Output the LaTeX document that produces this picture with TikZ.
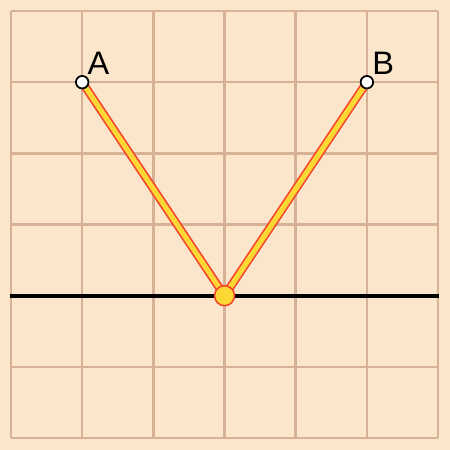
\documentclass[tikz,border=0pt]{standalone}
\usepackage{fontspec}
\setmainfont{Liberation Sans}
\definecolor{paper}{HTML}{FBE6CB}
\definecolor{gridline}{HTML}{D6B196}
\definecolor{rayfill}{HTML}{FDD835}
\definecolor{rayedge}{HTML}{F4442E}
\tikzset{
  ray/.style={rayedge, line width=3.4pt, line cap=round,
    postaction={draw=rayfill, line width=2.1pt}},
  endpt/.style={circle, draw=black, fill=white, line width=0.7pt, inner sep=0pt, minimum size=5pt},
  midpt/.style={circle, draw=rayedge, fill=rayfill, line width=0.6pt, inner sep=0pt, minimum size=8pt},
  ptlabel/.style={font=\fontsize{13}{15}\selectfont, inner sep=0pt}
}
\begin{document}
\begin{tikzpicture}[x=1cm, y=1cm]
  \fill[paper] (-0.155,-0.168) rectangle (6.168,6.155);
  \useasboundingbox (-0.155,-0.168) rectangle (6.168,6.155);
  % grid 6 x 6
  \foreach \i in {0,...,6} {
    \draw[gridline, line width=1pt] (\i,0) -- (\i,6);
    \draw[gridline, line width=1pt] (0,\i) -- (6,\i);
  }
  % mirror line
  \draw[black, line width=1.5pt] (-0.02,2) -- (6.02,2);
  \coordinate (A) at (1,5);
  \coordinate (B) at (5,5);
  \coordinate (O) at (3,2);
  \draw[ray] (A) -- (O);
  \draw[ray] (O) -- (B);
  \node[endpt] (a) at (A) {};
  \node[endpt] (b) at (B) {};
  \node[midpt] (o) at (O) {};
  \node[ptlabel] (la) at (1.23,5.27) {A};
  \node[ptlabel] (lb) at (5.23,5.27) {B};
\end{tikzpicture}
\end{document}
